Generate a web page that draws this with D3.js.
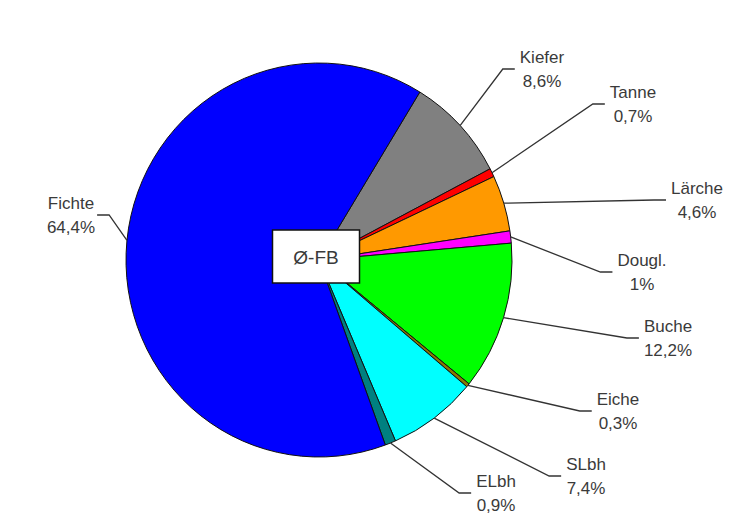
<!DOCTYPE html>
<html>
<head>
<meta charset="utf-8">
<script src="https://cdn.jsdelivr.net/npm/d3@7"></script>
<style>
    html, body { margin: 0; padding: 0; background: #fff; }
    svg { display: block; }
    .lbl { font-family: "Liberation Sans", Arial, sans-serif; font-size: 17px; fill: #3a3a3a; }
</style>
</head>
<body>
<div id="chart"></div>
<script>
/* eslint-env browser */

// data, clockwise starting with Kiefer
var species = ["Kiefer", "Tanne", "Lärche", "Dougl.", "Buche", "Eiche", "SLbh", "ELbh", "Fichte"],
    shares = [8.6, 0.7, 4.6, 1, 12.2, 0.3, 7.4, 0.9, 64.4],
    shareLabels = ["8,6%", "0,7%", "4,6%", "1%", "12,2%", "0,3%", "7,4%", "0,9%", "64,4%"],
    centerLabel = "Ø-FB";

var colors = ["#808080", "#ff0000", "#ff9900", "#ff00ff", "#00ff00", "#8a7a00", "#00ffff", "#008080", "#0000ff"];

// label layout: text centre x, first baseline y
var labelLayout = [
    [542, 63], [633, 98], [697, 194], [642, 266], [668, 332],
    [618, 405], [586, 470], [496, 487], [71, 209]
];

var width = 739,
    height = 520,
    cx = 319,
    cy = 260,
    rx = 193,
    ry = 197,
    startDeg = 31.5,
    lineGap = 23.5;

var svg = d3.select("#chart").append("svg")
    .attr("width", width)
    .attr("height", height);

var rows = species.map(function (s, i) {
    return { name: s, value: shares[i], label: shareLabels[i], color: colors[i], pos: labelLayout[i] };
});

var start = startDeg * Math.PI / 180,
    pie = d3.pie()
        .sort(null)
        .value(function (d) { return d.value; })
        .startAngle(start)
        .endAngle(start + 2 * Math.PI),
    arcs = pie(rows),
    arc = d3.arc().innerRadius(0).outerRadius(rx);

// slices (slightly taller than wide, like the original)
svg.append("g")
    .attr("transform", "translate(" + cx + "," + cy + ") scale(1," + (ry / rx) + ")")
    .selectAll("path")
    .data(arcs)
    .enter().append("path")
    .attr("d", arc)
    .attr("fill", function (d) { return d.data.color; })
    .attr("stroke", "#111")
    .attr("stroke-width", 1)
    .attr("vector-effect", "non-scaling-stroke");

// labels
var labels = svg.append("g")
    .selectAll("g")
    .data(arcs)
    .enter().append("g");

labels.each(function (d) {
    var g = d3.select(this),
        x = d.data.pos[0],
        y = d.data.pos[1],
        t1 = g.append("text").attr("class", "lbl").attr("text-anchor", "middle")
            .attr("x", x).attr("y", y).text(d.data.name),
        t2 = g.append("text").attr("class", "lbl").attr("text-anchor", "middle")
            .attr("x", x).attr("y", y + lineGap).text(d.data.label),
        w = Math.max(t1.node().getComputedTextLength(), t2.node().getComputedTextLength()),
        mid = (d.startAngle + d.endAngle) / 2,
        px = cx + rx * Math.sin(mid),
        py = cy - ry * Math.cos(mid),
        ly = y + 6,
        left = px > x,
        ex, hx;

    if (left) {
        hx = x + w / 2 + 2;
        ex = hx + 12;
    } else {
        hx = x - w / 2 - 5;
        ex = hx - 12;
    }

    g.insert("polyline", "text")
        .attr("points", [[px, py], [ex, ly], [hx, ly]].map(function (p) { return p.join(","); }).join(" "))
        .attr("fill", "none")
        .attr("stroke", "#333")
        .attr("stroke-width", 1.3);
});

// centre box
var box = svg.append("g").attr("transform", "translate(" + (cx - 3) + "," + (cy - 3.5) + ")");

box.append("rect")
    .attr("x", -43.5)
    .attr("y", -26.5)
    .attr("width", 87)
    .attr("height", 53)
    .attr("fill", "#fff")
    .attr("stroke", "#111")
    .attr("stroke-width", 1.5);

box.append("text")
    .attr("text-anchor", "middle")
    .attr("y", 7)
    .style("font-family", "\"Liberation Sans\", Arial, sans-serif")
    .style("font-size", "19px")
    .style("fill", "#3a3a3a")
    .text(centerLabel);
</script>
</body>
</html>
